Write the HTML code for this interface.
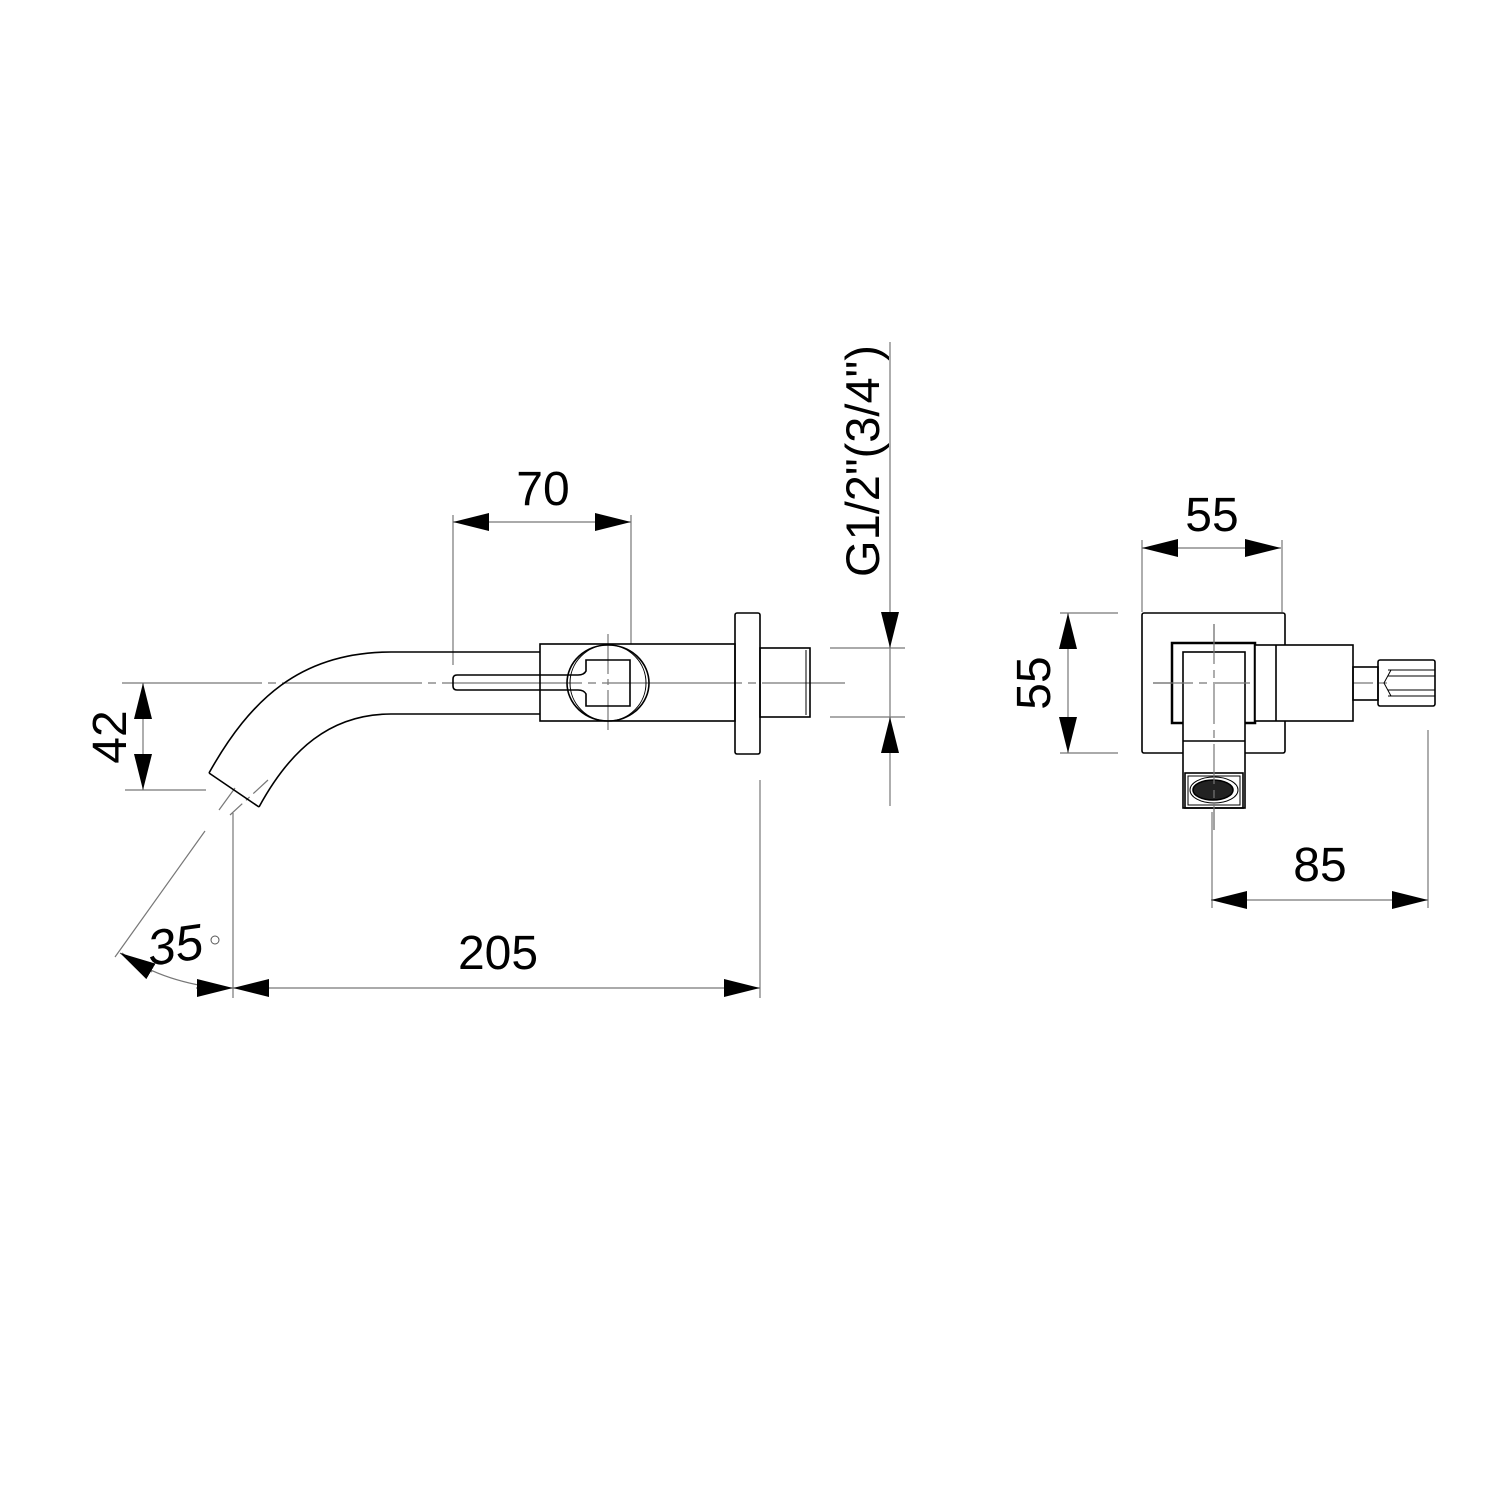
<!DOCTYPE html>
<html><head><meta charset="utf-8"><style>html,body{margin:0;padding:0;background:#fff}svg{display:block}</style></head>
<body>
<svg width="1500" height="1500" viewBox="0 0 1500 1500" xmlns="http://www.w3.org/2000/svg" font-family="Liberation Sans, Arial, sans-serif">
<rect width="1500" height="1500" fill="#fff"/>
<defs>
<marker id="a" viewBox="0 0 36 18" refX="36" refY="9" markerWidth="36" markerHeight="18" markerUnits="userSpaceOnUse" orient="auto-start-reverse"><path d="M0,0 L36,9 L0,18 Z" fill="#000"/></marker>
</defs>
<g stroke="#777" stroke-width="1.2" fill="none">
<line x1="453" y1="515" x2="453" y2="665"/>
<line x1="631" y1="515" x2="631" y2="644"/>
<line x1="890" y1="342" x2="890" y2="806"/>
<line x1="830" y1="648" x2="905" y2="648"/>
<line x1="830" y1="717" x2="905" y2="717"/>
<line x1="125" y1="790" x2="206" y2="790"/>
<line x1="233" y1="813" x2="233" y2="998"/>
<line x1="760" y1="780" x2="760" y2="998"/>
<line x1="115" y1="957" x2="205" y2="831"/>
<line x1="219" y1="810" x2="235" y2="788"/>
<path d="M122,953 Q160,982 225,989"/>
<line x1="122" y1="683" x2="845" y2="683" stroke-dasharray="140,6,8,6"/>
<line x1="608" y1="634" x2="608" y2="732" stroke-dasharray="40,5,6,5"/>
<path d="M268,780 L230,815" stroke-dasharray="20,5,5,5"/>
<line x1="1142" y1="540" x2="1142" y2="612"/>
<line x1="1282" y1="540" x2="1282" y2="612"/>
<line x1="1060" y1="613" x2="1118" y2="613"/>
<line x1="1060" y1="753" x2="1118" y2="753"/>
<line x1="1212" y1="812" x2="1212" y2="908"/>
<line x1="1428" y1="730" x2="1428" y2="908"/>
<line x1="1153" y1="683" x2="1390" y2="683" stroke-dasharray="40,6,8,6"/>
<line x1="1214" y1="624" x2="1214" y2="830" stroke-dasharray="40,6,8,6"/>
</g>
<g stroke="#777" stroke-width="1.2" fill="none">
<line x1="453" y1="522" x2="631" y2="522" marker-start="url(#a)" marker-end="url(#a)"/>
<line x1="890" y1="612" x2="890" y2="648" marker-end="url(#a)"/>
<line x1="890" y1="753" x2="890" y2="717" marker-end="url(#a)"/>
<line x1="143" y1="683" x2="143" y2="790" marker-start="url(#a)" marker-end="url(#a)"/>
<line x1="233" y1="988" x2="760" y2="988" marker-start="url(#a)" marker-end="url(#a)"/>
<line x1="196" y1="988" x2="233" y2="988" marker-end="url(#a)"/>
<line x1="152" y1="972" x2="120" y2="953" marker-end="url(#a)"/>
<line x1="1142" y1="548" x2="1281" y2="548" marker-start="url(#a)" marker-end="url(#a)"/>
<line x1="1068" y1="613" x2="1068" y2="753" marker-start="url(#a)" marker-end="url(#a)"/>
<line x1="1211" y1="900" x2="1428" y2="900" marker-start="url(#a)" marker-end="url(#a)"/>
</g>
<g stroke="#000" stroke-width="1.6" fill="none">
<path d="M209,773 C250,700 300,652 391,652 L540,652"/>
<path d="M259,807 C290,750 330,714 391,714 L540,714"/>
<line x1="209" y1="773" x2="259" y2="807"/>
<rect x="540" y="644" width="195" height="77"/>
<rect x="735" y="613" width="25" height="141" rx="2"/>
<rect x="760" y="648" width="50" height="69"/>
<line x1="806" y1="650" x2="806" y2="715" stroke-width="1"/>
<ellipse cx="608" cy="683" rx="41" ry="38"/>
<ellipse cx="608" cy="683" rx="38" ry="38" stroke-width="1"/>
<path d="M586,660 L630,660 L630,706 L586,706 L586,694 Q584,690 578,690 L457,690 Q453,690 453,686 L453,679 Q453,675 457,675 L578,675 Q584,675 586,671 Z"/>
</g>
<g stroke="#000" stroke-width="1.6" fill="none">
<rect x="1142" y="613" width="143" height="140" rx="2"/>
<rect x="1172" y="643" width="83" height="80" fill="#fff" stroke-width="2.5"/>
<rect x="1255" y="645" width="98" height="76" fill="#fff"/>
<line x1="1276" y1="645" x2="1276" y2="721"/>
<rect x="1353" y="667" width="25" height="33"/>
<rect x="1378" y="660" width="57" height="46" rx="2"/>
<line x1="1388" y1="670" x2="1435" y2="670" stroke-width="1"/>
<line x1="1388" y1="676" x2="1435" y2="676" stroke-width="1"/>
<line x1="1388" y1="690" x2="1435" y2="690" stroke-width="1"/>
<line x1="1388" y1="696" x2="1435" y2="696" stroke-width="1"/>
<path d="M1391,670 L1384,683 L1391,696" stroke-width="1"/>
<rect x="1183" y="652" width="62" height="156" fill="#fff"/>
<line x1="1183" y1="741" x2="1245" y2="741"/>
<rect x="1185" y="773" width="58" height="35"/>
<rect x="1188" y="776" width="52" height="29" stroke-width="1"/>
<ellipse cx="1214" cy="790" rx="24" ry="13" stroke-width="1"/>
<ellipse cx="1213" cy="790" rx="20" ry="10" fill="#222"/>
</g>
<line x1="1214" y1="624" x2="1214" y2="830" stroke="#777" stroke-width="1.2" stroke-dasharray="40,6,8,6"/>
<line x1="1153" y1="683" x2="1250" y2="683" stroke="#777" stroke-width="1.2" stroke-dasharray="40,6,8,6"/>
<g font-size="48" fill="#000">
<text x="543" y="505" text-anchor="middle">70</text>
<text x="498" y="969" text-anchor="middle">205</text>
<text x="1212" y="531" text-anchor="middle">55</text>
<text x="1320" y="881" text-anchor="middle">85</text>
<text transform="translate(126,737) rotate(-90)" text-anchor="middle">42</text>
<text transform="translate(1050,683) rotate(-90)" text-anchor="middle">55</text>
<text transform="translate(879,461) rotate(-90)" text-anchor="middle" font-size="47">G1/2"(3/4")</text>
<text x="175" y="962" text-anchor="middle" font-style="italic" font-size="50" transform="rotate(-8 175 945)">35</text>
</g>
<circle cx="215" cy="940" r="4" fill="none" stroke="#555" stroke-width="1"/>
</svg>
</body></html>
